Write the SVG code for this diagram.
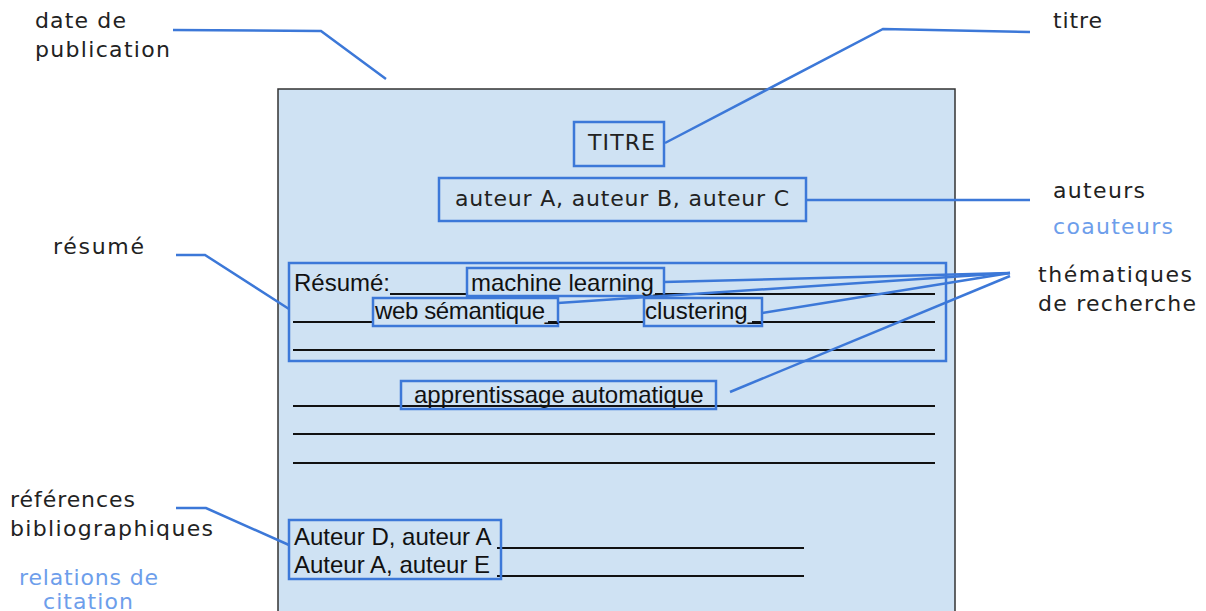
<svg xmlns="http://www.w3.org/2000/svg" width="1206" height="611" viewBox="0 0 1206 611">
<style>
.lbl{font-family:"DejaVu Sans","Open Sans",sans-serif;font-size:22px;fill:#222}
.lt{font-family:"DejaVu Sans","Open Sans",sans-serif;font-size:22px;fill:#6d9eeb}
.doc{font-family:"Liberation Sans",Arial,sans-serif;font-size:24px;fill:#111}
.box{fill:none;stroke:#3c78d8;stroke-width:2.5}
.con{fill:none;stroke:#3c78d8;stroke-width:2.5}
.rule{stroke:#111;stroke-width:2}
</style>
<rect width="1206" height="611" fill="#fff"/>
<g id="page">
<rect x="278" y="89" width="677" height="540" fill="#cfe2f3" stroke="#333" stroke-width="1.5"/>
<line class="rule" x1="390" y1="294" x2="467" y2="294"/>
<line class="rule" x1="655" y1="294" x2="935" y2="294"/>
<line class="rule" x1="293" y1="322" x2="373" y2="322"/>
<line class="rule" x1="548" y1="322" x2="644" y2="322"/>
<line class="rule" x1="752" y1="322" x2="935" y2="322"/>
<line class="rule" x1="293" y1="350" x2="935" y2="350"/>
<line class="rule" x1="293" y1="406" x2="935" y2="406"/>
<line class="rule" x1="293" y1="434" x2="935" y2="434"/>
<line class="rule" x1="293" y1="463" x2="935" y2="463"/>
<line class="rule" x1="497" y1="548" x2="804" y2="548"/>
<line class="rule" x1="497" y1="576" x2="804" y2="576"/>
</g>
<g id="titre-box">
<rect x="574" y="122" width="90" height="44" fill="#cfe2f3" class="box"/>
<text class="lbl" x="588" y="150" textLength="67">TITRE</text>
</g>
<g id="auteurs-box">
<rect x="439" y="178" width="367" height="43" fill="#cfe2f3" class="box"/>
<text class="lbl" x="455" y="206" textLength="334">auteur A, auteur B, auteur C</text>
</g>
<g id="resume-box">
<rect x="289" y="263" width="657" height="98" class="box"/>
<text class="doc" x="294" y="291">Résumé:</text>
</g>
<g id="ml-box">
<rect x="467" y="268" width="197" height="28" fill="#cfe2f3" class="box"/>
<text class="doc" x="471" y="291">machine learning_</text>
</g>
<g id="web-box">
<rect x="373" y="298" width="185" height="28" fill="#cfe2f3" class="box"/>
<text class="doc" x="375" y="319" textLength="183">web sémantique_</text>
</g>
<g id="clustering-box">
<rect x="644" y="298" width="118" height="28" fill="#cfe2f3" class="box"/>
<text class="doc" x="645" y="319">clustering_</text>
</g>
<g id="apprentissage-box">
<rect x="401" y="381" width="315" height="28" fill="#cfe2f3" class="box"/>
<text class="doc" x="414" y="403">apprentissage automatique</text>
</g>
<g id="refs-box">
<rect x="289" y="520" width="212" height="59" class="box"/>
<text class="doc" x="294" y="545">Auteur D, auteur A</text>
<text class="doc" x="294" y="573">Auteur A, auteur E</text>
</g>
<g id="labels">
<text class="lbl" x="35" y="28" textLength="91">date de</text>
<text class="lbl" x="35" y="57" textLength="135">publication</text>
<text class="lbl" x="1053" y="28" textLength="49">titre</text>
<text class="lbl" x="1053" y="198" textLength="92">auteurs</text>
<text class="lt" x="1053" y="234" textLength="120">coauteurs</text>
<text class="lbl" x="53" y="254" textLength="91">résumé</text>
<text class="lbl" x="1038" y="282" textLength="154">thématiques</text>
<text class="lbl" x="1038" y="311" textLength="158">de recherche</text>
<text class="lbl" x="10" y="507" textLength="125">références</text>
<text class="lbl" x="10" y="536" textLength="203">bibliographiques</text>
<text class="lt" x="19" y="585" textLength="139">relations de</text>
<text class="lt" x="43" y="609" textLength="90">citation</text>
</g>
<g id="connectors">
<polyline class="con" points="173,30 321,31 386,79"/>
<polyline class="con" points="1030,32 883,29 665,143"/>
<line class="con" x1="806" y1="200" x2="1030" y2="200"/>
<polyline class="con" points="176,255 205,255 289,309"/>
<line class="con" x1="664" y1="282" x2="1010" y2="273"/>
<line class="con" x1="558" y1="303" x2="1010" y2="273"/>
<line class="con" x1="762" y1="313" x2="1010" y2="273"/>
<line class="con" x1="730" y1="392" x2="1010" y2="276"/>
<polyline class="con" points="176,508 206,508 289,545"/>
</g>
</svg>
